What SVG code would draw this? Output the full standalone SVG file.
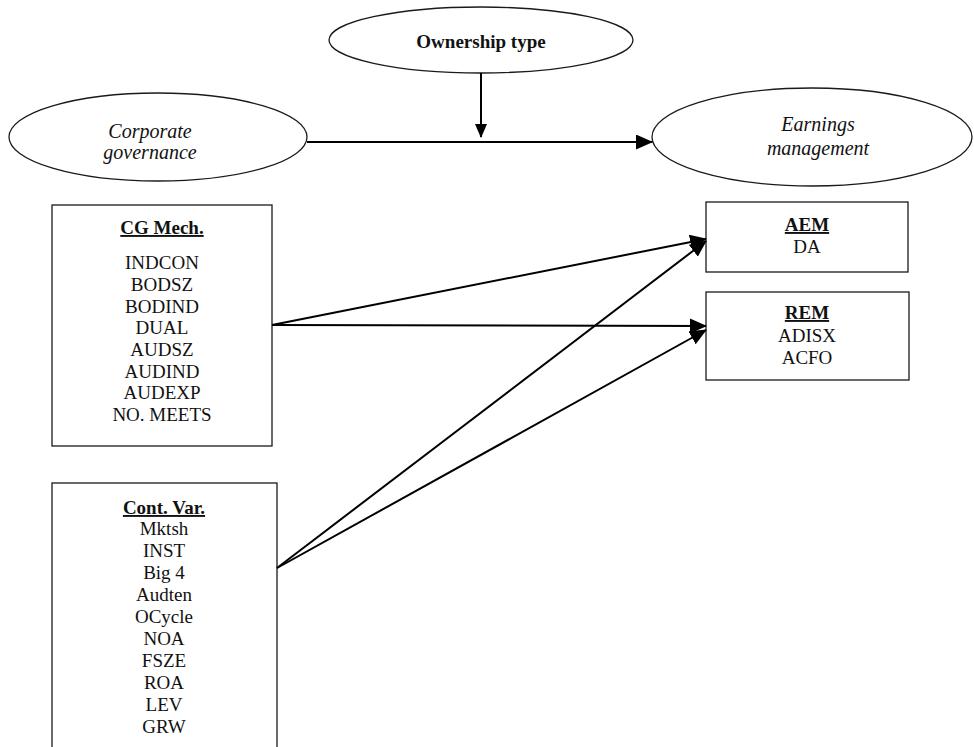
<svg xmlns="http://www.w3.org/2000/svg" width="974" height="747" viewBox="0 0 974 747">
<style>
.shape{fill:#fff;stroke:#1a1a1a;stroke-width:1.3}
.t{font-family:"Liberation Serif","Times New Roman",serif;font-size:19px;fill:#111;text-anchor:middle}
.b{font-weight:bold}
.u{text-decoration:underline}
.i{font-style:italic;font-size:20px}
.c{stroke:#000;stroke-width:2;fill:none}
</style>
<defs>
<marker id="ah" viewBox="0 0 14 12" refX="13" refY="6" markerWidth="14" markerHeight="12" markerUnits="userSpaceOnUse" orient="auto">
<path d="M0,0 L14,6 L0,12 z" fill="#000"/>
</marker>
<marker id="ahl" viewBox="0 0 17 15" refX="16" refY="7.5" markerWidth="17" markerHeight="15" markerUnits="userSpaceOnUse" orient="auto">
<path d="M0,0 L17,7.5 L0,15 z" fill="#000"/>
</marker>
<marker id="ahb" viewBox="0 0 17 15" refX="16" refY="7.5" markerWidth="17" markerHeight="15" markerUnits="userSpaceOnUse" orient="auto">
<path d="M0,0 L17,7.5 L0,15 z" fill="#000"/>
</marker>
</defs>
<rect width="974" height="747" fill="#fff"/>
<g id="ownership">
<ellipse class="shape" cx="481" cy="40" rx="152" ry="33"/>
<text class="t b" x="481" y="48" font-size="21">Ownership type</text>
</g>
<g id="corporate-governance">
<ellipse class="shape" cx="158" cy="137" rx="149" ry="44"/>
<text class="t i" x="150" y="138">Corporate</text>
<text class="t i" x="150" y="159">governance</text>
</g>
<g id="earnings-management">
<ellipse class="shape" cx="812" cy="137" rx="160" ry="49"/>
<text class="t i" x="818" y="131">Earnings</text>
<text class="t i" x="818" y="155">management</text>
</g>
<g id="cg-mech">
<rect class="shape" x="52" y="205" width="220" height="241"/>
<text class="t b u" x="162" y="234">CG Mech.</text>
<text class="t" x="162" y="269">INDCON</text>
<text class="t" x="162" y="291">BODSZ</text>
<text class="t" x="162" y="313">BODIND</text>
<text class="t" x="162" y="334">DUAL</text>
<text class="t" x="162" y="356">AUDSZ</text>
<text class="t" x="162" y="378">AUDIND</text>
<text class="t" x="162" y="399">AUDEXP</text>
<text class="t" x="162" y="421">NO. MEETS</text>
</g>
<g id="cont-var">
<rect class="shape" x="52" y="483" width="225" height="280"/>
<text class="t b u" x="164" y="514">Cont. Var.</text>
<text class="t" x="164" y="535">Mktsh</text>
<text class="t" x="164" y="557">INST</text>
<text class="t" x="164" y="579">Big 4</text>
<text class="t" x="164" y="601">Audten</text>
<text class="t" x="164" y="623">OCycle</text>
<text class="t" x="164" y="645">NOA</text>
<text class="t" x="164" y="667">FSZE</text>
<text class="t" x="164" y="689">ROA</text>
<text class="t" x="164" y="711">LEV</text>
<text class="t" x="164" y="733">GRW</text>
</g>
<g id="aem">
<rect class="shape" x="706" y="202" width="202" height="70"/>
<text class="t b u" x="807" y="231">AEM</text>
<text class="t" x="807" y="253">DA</text>
</g>
<g id="rem">
<rect class="shape" x="706" y="292" width="203" height="88"/>
<text class="t b u" x="807" y="319">REM</text>
<text class="t" x="807" y="342">ADISX</text>
<text class="t" x="807" y="364">ACFO</text>
</g>
<g id="connectors">
<line class="c" x1="481" y1="73" x2="481" y2="137" marker-end="url(#ah)"/>
<line class="c" x1="307" y1="142" x2="652" y2="142" stroke-width="3.5" marker-end="url(#ahb)"/>
<line class="c" x1="272" y1="325" x2="706" y2="239" marker-end="url(#ahl)"/>
<line class="c" x1="272" y1="325" x2="706" y2="326" marker-end="url(#ahl)"/>
<line class="c" x1="277" y1="568" x2="706" y2="241" marker-end="url(#ahl)"/>
<line class="c" x1="277" y1="568" x2="706" y2="330" marker-end="url(#ahl)"/>
</g>
</svg>
